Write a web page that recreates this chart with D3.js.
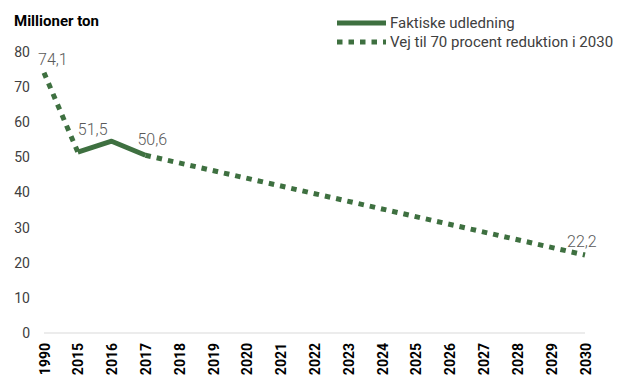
<!DOCTYPE html>
<html><head><meta charset="utf-8">
<script src="https://cdn.jsdelivr.net/npm/d3@7"></script>
<style>
body{margin:0;background:#fff;}
svg{display:block;font-family:Roboto, "Noto Sans", sans-serif;}
</style></head>
<body>
<svg id="chart" width="617" height="379"></svg>
<script>
const years = ["1990","2015","2016","2017","2018","2019","2020","2021","2022","2023","2024","2025","2026","2027","2028","2029","2030"];
const actual = [null, 51.5, 54.6, 50.6, null, null, null, null, null, null, null, null, null, null, null, null, null];
const historyPath = [74.1, 51.5, null, null, null, null, null, null, null, null, null, null, null, null, null, null, null];
const reductionPath = [null, null, null, 50.6, null, null, null, null, null, null, null, null, null, null, null, null, 22.2];
const yTicks = [0, 10, 20, 30, 40, 50, 60, 70, 80];
const labelYears = ["1990","2015","2017","2030"];
const labelValues = [74.1, 51.5, 50.6, 22.2];
const legendLabels = ["Faktiske udledning", "Vej til 70 procent reduktion i 2030"];

const green = "#3e7040";
const svg = d3.select("#chart");
const x = d3.scalePoint().domain(years).range([44, 585]).padding(0);
const y = d3.scaleLinear().domain([0, 80]).range([333, 52]);

// y axis
const ya = svg.append("g").attr("transform", "translate(30,0)")
  .call(d3.axisLeft(y).tickValues(yTicks).tickSize(0).tickPadding(0).tickFormat(d3.format("d")));
ya.select(".domain").remove();
ya.selectAll("text").attr("font-size", 14).attr("fill", "#404040").attr("font-family", "Roboto");

// zero line
svg.append("line").attr("x1", x("1990")).attr("x2", x("2030")).attr("y1", y(0)).attr("y2", y(0))
  .attr("stroke", "#d9d9d9").attr("stroke-width", 1);

// x axis
const xa = svg.append("g").attr("transform", "translate(0,343)")
  .call(d3.axisBottom(x).tickSize(0).tickPadding(0));
xa.select(".domain").remove();
xa.selectAll("text")
  .attr("transform", "rotate(-90)")
  .attr("text-anchor", "end")
  .attr("x", 0).attr("y", 0).attr("dy", "0.36em")
  .attr("font-size", 14).attr("font-weight", "bold").attr("fill", "#000").attr("font-family", "Roboto");

// title
svg.append("text").attr("x", 14).attr("y", 26).text("Millioner ton")
  .attr("font-size", 15).attr("font-weight", "bold").attr("fill", "#000");

function pts(arr){ return years.map((yr,i)=>({yr, v: arr[i]})).filter(d => d.v != null); }
const line = d3.line().x(d => x(d.yr)).y(d => y(d.v));

[historyPath, reductionPath].forEach(arr => {
  svg.append("path").datum(pts(arr)).attr("d", line).attr("fill", "none")
    .attr("stroke", green).attr("stroke-width", 5).attr("stroke-dasharray", "5.5,6");
});
svg.append("path").datum(pts(actual)).attr("d", line).attr("fill", "none")
  .attr("stroke", green).attr("stroke-width", 5).attr("stroke-linejoin", "round");

// data labels
const offs = [[-6,-8],[0,-17],[-8,-10],[-18,-8]];
labelYears.forEach((yr,i) => {
  svg.append("text").attr("x", x(yr) + offs[i][0]).attr("y", y(labelValues[i]) + offs[i][1])
    .text(d3.format(".1f")(labelValues[i]).replace(".", ","))
    .attr("font-size", 16).attr("font-weight", 300).attr("fill", "#595959");
});

// legend
const lg = svg.append("g");
lg.append("line").attr("x1", 337).attr("x2", 386).attr("y1", 23).attr("y2", 23)
  .attr("stroke", green).attr("stroke-width", 5);
lg.append("line").attr("x1", 337).attr("x2", 386).attr("y1", 42).attr("y2", 42)
  .attr("stroke", green).attr("stroke-width", 5).attr("stroke-dasharray", "5.5,6");
legendLabels.forEach((t,i) => {
  lg.append("text").attr("x", 390).attr("y", 28 + i*19).text(t)
    .attr("font-size", 15).attr("fill", "#404040");
});
</script>
</body></html>
